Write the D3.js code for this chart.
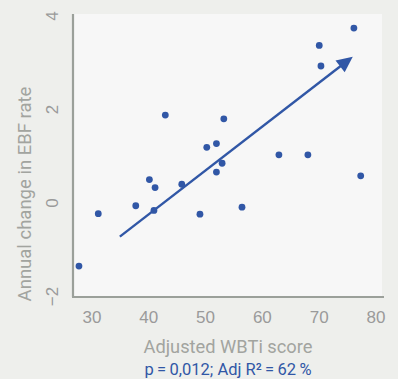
<!DOCTYPE html>
<html>
<head>
<meta charset="utf-8">
<script src="https://cdn.jsdelivr.net/npm/d3@7"></script>
<style>
  body { margin: 0; background: #eeefec; }
  svg { display: block; font-family: Roboto, "DejaVu Sans", sans-serif; }
</style>
</head>
<body>
<svg width="398" height="379"></svg>
<script>
// data
const wbti = [27.8, 31.2, 37.8, 40.2, 41.0, 41.2, 43.0, 45.9, 49.1, 50.3, 52.0, 52.0, 53.0, 53.3, 56.5, 63.0, 68.1, 70.1, 70.4, 76.2, 77.4];
const ebf = [-1.36, -0.24, -0.07, 0.49, -0.17, 0.32, 1.87, 0.39, -0.25, 1.18, 1.26, 0.65, 0.84, 1.79, -0.10, 1.02, 1.02, 3.36, 2.92, 3.73, 0.57];
const trendX = [35, 76];
const trendY = [-0.73, 3.12];
const xTicks = [30, 40, 50, 60, 70, 80];
const yTicks = [-2, 0, 2, 4];

const blue = "#3157a6";
const svg = d3.select("svg");

// scales
const x = d3.scaleLinear().domain([26.75, 81.5]).range([73, 384]);
const y = d3.scaleLinear().domain([-2, 4]).range([296, 15.5]);

// plot panel
svg.append("rect")
    .attr("x", 73)
    .attr("y", 14)
    .attr("width", 309)
    .attr("height", 283)
    .attr("fill", "#f7f7f7");

// y axis
const yAxis = svg.append("g")
    .attr("transform", "translate(73,0)")
    .call(d3.axisLeft(y).tickValues(yTicks).tickSize(0).tickFormat(d3.format("d")));
yAxis.select(".domain").attr("stroke", "#9ba09a").attr("stroke-width", 2.2).attr("d", "M0,14V297");
yAxis.selectAll("text")
    .attr("x", null)
    .attr("dy", "0.36em")
    .attr("transform", "translate(-21,0) rotate(-90)")
    .attr("text-anchor", "middle")
    .attr("fill", "#9a9a9a")
    .attr("font-size", 17)
    .attr("font-family", null);

// x axis
const xAxis = svg.append("g")
    .attr("transform", "translate(0,297)")
    .call(d3.axisBottom(x).tickValues(xTicks).tickSize(0));
xAxis.select(".domain").attr("stroke", "#9ba09a").attr("stroke-width", 2.2).attr("d", "M72,0H384");
xAxis.selectAll("text")
    .attr("y", 26)
    .attr("dy", null)
    .attr("fill", "#9a9a9a")
    .attr("font-size", 17)
    .attr("font-family", null);

// axis titles
svg.append("text")
    .attr("transform", "translate(31,194) rotate(-90)")
    .attr("text-anchor", "middle")
    .attr("fill", "#a2a49f")
    .attr("font-size", 18.5)
    .text("Annual change in EBF rate");

svg.append("text")
    .attr("x", 228)
    .attr("y", 353)
    .attr("text-anchor", "middle")
    .attr("fill", "#a2a49f")
    .attr("font-size", 18.3)
    .text("Adjusted WBTi score");

svg.append("text")
    .attr("x", 228)
    .attr("y", 375)
    .attr("text-anchor", "middle")
    .attr("fill", blue)
    .attr("font-size", 16.5)
    .text("p\u2009=\u20090,012; Adj R\u00b2\u2009=\u200962\u2009%");

// points
svg.append("g")
  .selectAll("circle")
  .data(wbti.map((d, i) => [d, ebf[i]]))
  .enter().append("circle")
    .attr("cx", d => x(d[0]))
    .attr("cy", d => y(d[1]))
    .attr("r", 3.4)
    .attr("fill", blue);

// trend arrow
const x0 = x(trendX[0]), y0 = y(trendY[0]);
const x1 = x(trendX[1]), y1 = y(trendY[1]);
const ang = Math.atan2(y1 - y0, x1 - x0);
const headLen = 16, headW = 7.5;
const bx = x1 - headLen * Math.cos(ang), by = y1 - headLen * Math.sin(ang);
svg.append("line")
    .attr("x1", x0).attr("y1", y0)
    .attr("x2", bx + 2 * Math.cos(ang)).attr("y2", by + 2 * Math.sin(ang))
    .attr("stroke", blue)
    .attr("stroke-width", 2.4);
svg.append("path")
    .attr("d", `M${x1},${y1}L${bx - headW * Math.sin(ang)},${by + headW * Math.cos(ang)}L${bx + headW * Math.sin(ang)},${by - headW * Math.cos(ang)}Z`)
    .attr("fill", blue);
</script>
</body>
</html>
